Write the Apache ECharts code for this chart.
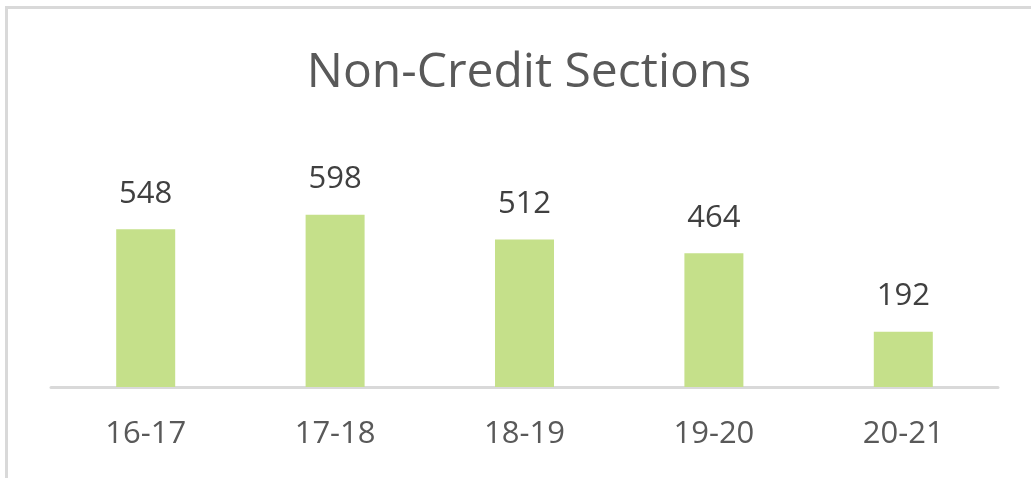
<!DOCTYPE html>
<html>
<head>
<meta charset="utf-8">
<script src="https://cdn.jsdelivr.net/npm/echarts@6/dist/echarts.min.js"></script>
<style>
    body { margin: 0; background: #fff; }
    #frame {
        position: absolute; left: 5px; top: 6px; width: 1030px; height: 480px;
        border-left: 3px solid #d9d9d9; border-top: 3px solid #d9d9d9;
    }
    #chart { position: absolute; left: 0; top: 0; width: 1031px; height: 478px; }
</style>
</head>
<body>
<div id="frame"></div>
<div id="chart"></div>
<script>
var years = ["16-17", "17-18", "18-19", "19-20", "20-21"];
var sections = [548, 598, 512, 464, 192];

var myChart = echarts.init(document.getElementById('chart'));
var option = {
    backgroundColor: 'transparent',
    title: {
        text: 'Non-Credit Sections',
        left: 524,
        top: 44,
        textAlign: 'center',
        textStyle: {
            fontFamily: 'Open Sans',
            fontWeight: 'normal',
            fontSize: 48,
            color: '#595959'
        }
    },
    grid: { left: 51, right: 33, top: 99, bottom: 91 },
    xAxis: {
        type: 'category',
        data: years,
        axisLine: { lineStyle: { color: '#d9d9d9', width: 3 } },
        axisTick: { show: false },
        axisLabel: {
            margin: 32,
            fontFamily: 'Open Sans',
            fontSize: 31,
            color: '#595959'
        }
    },
    yAxis: {
        type: 'value',
        min: 0,
        max: 1000,
        show: false,
        splitLine: { show: false }
    },
    series: [{
        type: 'bar',
        data: sections,
        barWidth: 59,
        itemStyle: { color: '#c5e08a' },
        label: {
            show: true,
            position: 'top',
            distance: 20,
            fontFamily: 'Open Sans',
            fontSize: 31,
            color: '#404040'
        }
    }]
};
myChart.setOption(option);
</script>
</body>
</html>
